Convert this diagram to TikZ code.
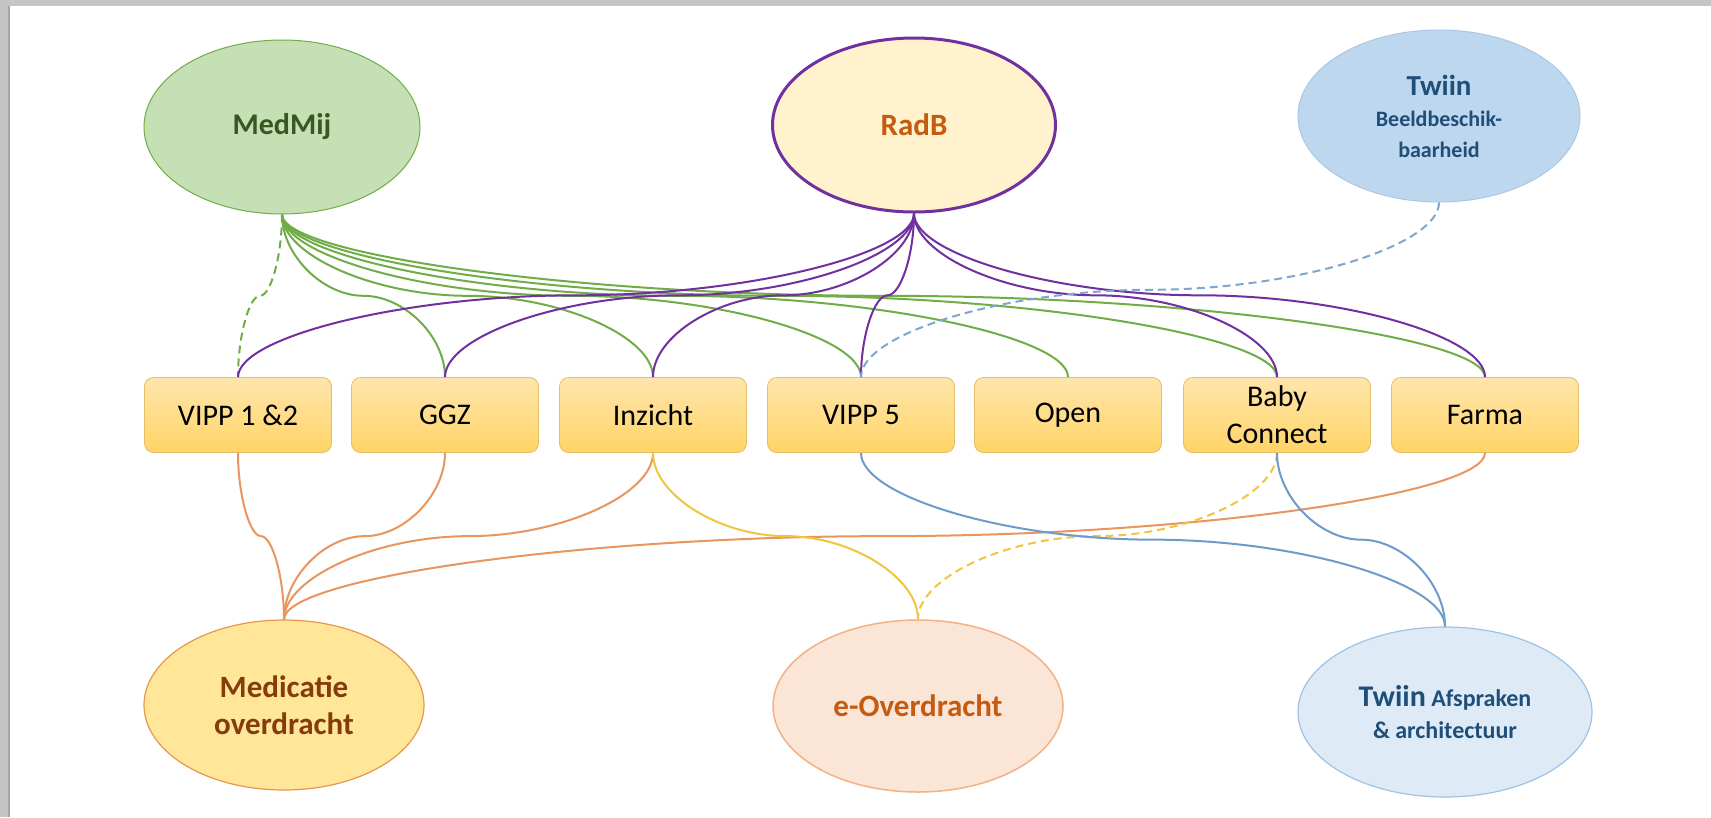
\documentclass[tikz,border=0pt]{standalone}
\usepackage{fontspec}
\setmainfont{Carlito}
\usetikzlibrary{shapes.geometric,calc}
\definecolor{gline}{HTML}{70AD47}
\definecolor{pline}{HTML}{7030A0}
\definecolor{oline}{HTML}{E8965E}
\definecolor{yline}{HTML}{F0C540}
\definecolor{bline}{HTML}{6E9BC9}
\definecolor{bdash}{HTML}{7EA6CF}
\definecolor{boxt}{HTML}{FEE5AC}
\definecolor{boxb}{HTML}{FFD466}
\definecolor{boxd}{HTML}{E6BE68}
\definecolor{medf}{HTML}{C5E0B4}
\definecolor{medt}{HTML}{385723}
\definecolor{radf}{HTML}{FFF2CC}
\definecolor{radt}{HTML}{C55A11}
\definecolor{twf}{HTML}{BDD7EE}
\definecolor{twd}{HTML}{A9C8E6}
\definecolor{twt}{HTML}{1F4E79}
\definecolor{mof}{HTML}{FFE699}
\definecolor{mod}{HTML}{E8964E}
\definecolor{mot}{HTML}{843C0C}
\definecolor{eof}{HTML}{FBE5D6}
\definecolor{eod}{HTML}{F4B183}
\definecolor{taf}{HTML}{DEEBF7}
\definecolor{tad}{HTML}{9DC3E6}
\definecolor{frame}{HTML}{C4C6C6}
\begin{document}
\begin{tikzpicture}[x=1pt,y=-1pt,
  ell/.style={ellipse, inner sep=0pt, align=center},
  box/.style={rectangle, rounded corners=9pt, minimum width=187pt, minimum height=75pt,
    inner sep=0pt, draw=boxd, line width=0.8pt, top color=boxt, bottom color=boxb,
    font=\fontsize{30}{37}\selectfont, align=center},
  conn/.style={line width=2pt},
  dsh/.style={dash pattern=on 8pt off 5pt},
  pp/.style={to path={let \p1=(\tikztostart), \p2=(\tikztotarget) in
     .. controls (\x1,{\y1+0.25*(\y2-\y1)}) and ({\x1+0.25*(\x2-\x1)},{\y1+0.5*(\y2-\y1)}) .. ({\x1+0.5*(\x2-\x1)},{\y1+0.5*(\y2-\y1)})
     .. controls ({\x1+0.75*(\x2-\x1)},{\y1+0.5*(\y2-\y1)}) and (\x2,{\y1+0.75*(\y2-\y1)}) .. (\tikztotarget)}}
]
\useasboundingbox (0,0) rectangle (1711,817);
\fill[white] (0,0) rectangle (1711,817);
\fill[frame] (0,0) rectangle (1711,6);
\fill[frame] (0,0) rectangle (8,817);
\fill[black!35] (8,6) rectangle (10,817);

% top ellipses
\node[ell, draw=gline, line width=1pt, fill=medf, minimum width=276pt, minimum height=174pt,
  text=medt, font=\fontsize{30}{36}\selectfont\bfseries] (medmij) at (282,127) {MedMij};
\node[ell, draw=pline, line width=3pt, fill=radf, minimum width=283pt, minimum height=174pt,
  text=radt, font=\fontsize{31}{36}\selectfont\bfseries] (radb) at (914,125) {RadB};
\node[ell, draw=twd, line width=1pt, fill=twf, minimum width=282pt, minimum height=172pt,
  text=twt, font=\fontsize{22}{31}\selectfont\bfseries] (twtop) at (1439,116)
  {{\fontsize{29}{31}\selectfont Twiin}\\Beeldbeschik-\\baarheid};

% boxes
\node[box] (b1) at (238,415) {VIPP 1 \&2};
\node[box] (b2) at (445,415) {GGZ};
\node[box] (b3) at (653,415) {Inzicht};
\node[box] (b4) at (861,415) {VIPP 5};
\node[box] (b5) at (1068,415) {Open};
\node[box] (b6) at (1277,415) {Baby\\Connect};
\node[box] (b7) at (1485,415) {Farma};

% bottom ellipses
\node[ell, draw=mod, line width=1.2pt, fill=mof, minimum width=280pt, minimum height=170pt,
  text=mot, font=\fontsize{31}{37}\selectfont\bfseries] (med) at (284,705) {Medicatie\\overdracht};
\node[ell, draw=eod, line width=1.5pt, fill=eof, minimum width=290pt, minimum height=172pt,
  text=radt, font=\fontsize{31}{36}\selectfont\bfseries] (eov) at (918,706) {e-Overdracht};
\node[ell, draw=tad, line width=1.2pt, fill=taf, minimum width=294pt, minimum height=170pt,
  text=twt, font=\fontsize{24}{32}\selectfont\bfseries] (twa) at (1445,712)
  {{\fontsize{30}{32}\selectfont Twiin} Afspraken\\\& architectuur};

% MedMij connectors
\draw[conn, gline, dsh] (medmij.south) to[pp] (b1.north);
\foreach \b in {b2,b3,b4,b5,b6,b7}
  \draw[conn, gline] (medmij.south) to[pp] (\b.north);
% RadB connectors
\foreach \b in {b1,b2,b3,b4,b6,b7}
  \draw[conn, pline] (radb.south) to[pp] (\b.north);
% Twiin dashed
\draw[conn, bdash, dsh] (twtop.south) to[pp] (b4.north);
% Medicatie
\foreach \b in {b1,b2,b3,b7}
  \draw[conn, oline] (\b.south) to[pp] (med.north);
% e-Overdracht
\draw[conn, yline] (b3.south) to[pp] (eov.north);
\draw[conn, yline, dsh] (b6.south) to[pp] (eov.north);
% Twiin Afspraken
\draw[conn, bline] (b4.south) to[pp] (twa.north);
\draw[conn, bline] (b6.south) to[pp] (twa.north);
\end{tikzpicture}
\end{document}
